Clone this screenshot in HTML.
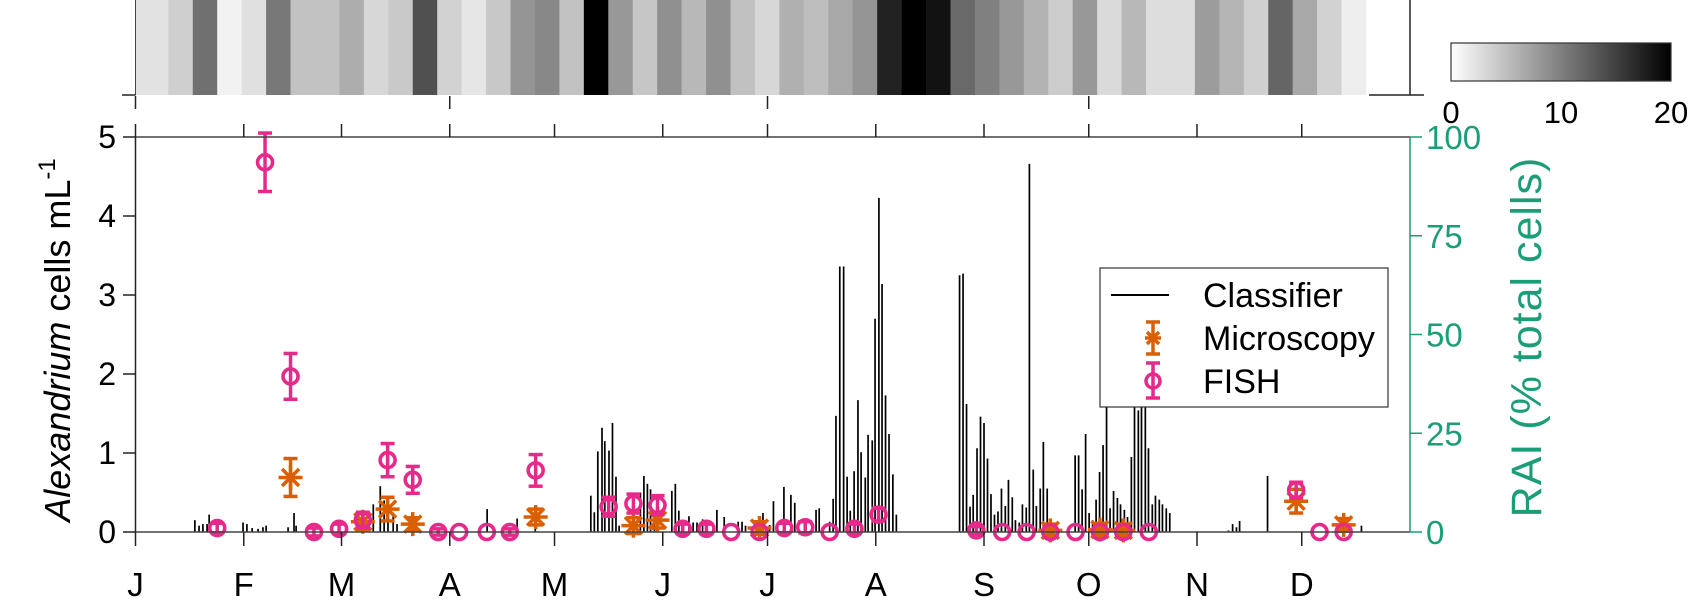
<!DOCTYPE html>
<html><head><meta charset="utf-8">
<style>
html,body{margin:0;padding:0;background:#fff;}
svg{display:block;font-family:"Liberation Sans",Arial,sans-serif;}
</style></head>
<body>
<svg id="chart" width="1700" height="600" viewBox="0 0 1700 600" xmlns="http://www.w3.org/2000/svg">
<defs>
<linearGradient id="cbgrad" x1="0" x2="1" y1="0" y2="0">
<stop offset="0" stop-color="#ffffff"/><stop offset="1" stop-color="#000000"/>
</linearGradient>
</defs>
<g id="heat"></g>
<g id="bars"></g>
<g id="micro"></g>
<g id="fish"></g>
<g id="axes"></g>
<text transform="translate(70,340) rotate(-90)" text-anchor="middle" font-size="36" fill="#000"><tspan font-style="italic">Alexandrium</tspan> cells mL<tspan font-size="24" dy="-15">-1</tspan></text>
<text transform="translate(1541,337) rotate(-90)" text-anchor="middle" font-size="43" letter-spacing="1" fill="#1b9e77">RAI (% total cells)</text>
<g>
<rect x="1451" y="43" width="220" height="38" fill="url(#cbgrad)" stroke="#333" stroke-width="1.2"/>
<text x="1451" y="123" font-size="31" text-anchor="middle">0</text>
<text x="1561" y="123" font-size="31" text-anchor="middle">10</text>
<text x="1671" y="123" font-size="31" text-anchor="middle">20</text>
</g>
<g>
<rect x="1100" y="268" width="288" height="139" fill="#fff" stroke="#333" stroke-width="1.2"/>
<line x1="1111" y1="295" x2="1169" y2="295" stroke="#000" stroke-width="2"/>
<text x="1203" y="307" font-size="34">Classifier</text>
<g stroke="#d95f02" stroke-width="3.5">
<line x1="1153" y1="322" x2="1153" y2="354"/><line x1="1146" y1="322" x2="1160" y2="322"/><line x1="1146" y1="354" x2="1160" y2="354"/>
<line x1="1145" y1="338" x2="1161" y2="338"/><line x1="1147" y1="332" x2="1159" y2="344"/><line x1="1147" y1="344" x2="1159" y2="332"/>
</g>
<text x="1203" y="350" font-size="34">Microscopy</text>
<g stroke="#e7298a" stroke-width="3.5" fill="none">
<line x1="1153" y1="363" x2="1153" y2="398"/><line x1="1146" y1="363" x2="1160" y2="363"/><line x1="1146" y1="398" x2="1160" y2="398"/>
<circle cx="1153" cy="381" r="7"/>
</g>
<text x="1203" y="393" font-size="34">FISH</text>
</g>
</svg>
<script>
// ---------- data ----------
const heatValues = [2.3,3.8,11.2,1.0,2.4,10.6,4.8,4.8,6.4,3.1,4.2,13.7,3.5,2.0,4.3,8.3,9.3,4.8,20,8.1,4.5,8.7,5.6,8.7,4.9,3.1,
 6.2,5.1,6.8,8.3,17.3,20,18.6,11.8,10,8.1,6.0,4.0,8.1,2.9,5.6,2.7,2.7,7.8,5.8,3.7,12.1,6.8,3.5,1.3];
const classDays = [17.0,18.2,19.3,20.5,21.1,30.8,31.9,33.4,35.1,36.5,37.4,43.7,45.4,46.0,
 63.8,65.2,68.1,70.1,71.2,72.3,73.8,74.9,100.7,109.3,114.5,
 130.4,131.4,132.4,133.6,134.4,135.6,136.6,137.6,138.5,144.6,145.6,146.6,147.5,148.6,
 153.6,154.6,155.6,158.5,159.7,160.8,162.4,166.5,168.6,172.6,173.7,174.7,
 179.7,181.6,182.7,185.7,187.7,188.8,194.9,195.8,198.8,199.8,200.6,201.7,202.8,203.8,204.7,205.8,206.9,207.8,209.0,209.8,211.0,211.8,212.9,213.8,214.8,215.8,216.9,217.9,
 236.0,237.0,238.0,239.0,239.9,241.0,242.0,243.0,244.0,245.0,246.0,247.0,248.0,249.1,250.0,251.1,252.0,253.1,254.0,255.1,256.0,257.1,258.0,259.1,260.0,261.1,
 269.1,270.1,271.1,272.1,273.1,274.1,275.1,276.1,277.1,278.1,279.1,280.1,281.2,282.1,283.2,284.1,285.2,286.1,287.2,288.1,289.2,290.1,291.2,292.1,293.2,294.1,295.2,296.2,
 313.0,314.2,315.3,316.2,324.2,351.1];
const classValues = [0.15,0.08,0.10,0.10,0.22,0.12,0.10,0.05,0.04,0.06,0.08,0.06,0.24,0.08,
 0.2,0.25,0.35,0.58,0.4,0.3,0.2,0.1,0.29,0.17,0.2,
 0.46,0.25,1.02,1.32,1.15,1.03,1.38,0.70,0.08,0.5,0.71,0.61,0.54,0.26,
 0.52,0.61,0.27,0.2,0.12,0.12,0.16,0.28,0.19,0.13,0.13,0.08,
 0.24,0.09,0.39,0.57,0.47,0.37,0.28,0.30,0.13,0.42,1.47,3.36,3.36,0.70,0.27,0.77,1.67,1.01,0.69,1.23,1.16,2.70,4.23,3.14,1.73,1.24,0.73,0.22,
 3.25,3.27,1.62,0.32,0.47,1.06,1.46,1.38,0.93,0.48,0.22,0.26,0.55,0.33,0.66,0.44,0.15,0.12,0.35,0.31,4.66,0.79,0.33,0.55,1.14,0.55,
 0.97,0.97,0.54,1.24,0.24,0.15,0.41,0.76,1.10,1.7,0.30,0.52,0.43,0.35,0.28,0.19,0.95,1.9,1.54,1.65,1.65,1.06,0.35,0.46,0.41,0.35,0.30,0.24,
 0.02,0.1,0.06,0.14,0.71,0.08];
const fishDays = [23.4,37.1,44.4,51.1,58.3,65.1,72.2,79.4,86.7,92.7,100.6,107.2,114.6,135.5,142.6,149.5,156.7,163.5,170.6,178.7,185.8,191.8,198.8,205.9,212.8,240.8,248.2,255.2,262.0,269.2,276.2,282.9,290.2,332.4,339.1,346.0];
const fishValues = [0.05,4.68,1.97,0.0,0.04,0.15,0.91,0.66,0.0,0,0,0.0,0.78,0.32,0.36,0.34,0.04,0.04,0,0,0.05,0.06,0,0.04,0.22,0.02,0,0,0,0,0,0,0,0.53,0,0];
const fishErr = [0.06,0.37,0.29,0.05,0.06,0.1,0.21,0.17,0.04,0,0,0.04,0.2,0.12,0.12,0.12,0.06,0.06,0,0,0.06,0.07,0,0.06,0.08,0.05,0,0,0,0,0,0,0,0.1,0,0];
const microDays = [44.4,65.1,72.2,79.4,114.6,142.6,149.5,178.7,262.0,276.2,282.9,332.4,346.0];
const microValues = [0.69,0.13,0.29,0.10,0.19,0.08,0.15,0.05,0.02,0.03,0.02,0.39,0.09];
const microErr = [0.24,0.1,0.15,0.08,0.1,0.1,0.1,0.08,0.08,0.08,0.08,0.15,0.08];
const monthLabels = ["J","F","M","A","M","J","J","A","S","O","N","D"];
const monthStarts = [0,31,59,90,120,151,181,212,243,273,304,334];
const leftTicks = [0,1,2,3,4,5];
const rightTicks = [0,25,50,75,100];

// ---------- scales ----------
const X0=135.5, X1=1410, Y0=532, Y1=137;
const x = d => X0 + d*(X1-X0)/365;
const y = v => Y0 - v*(Y0-Y1)/5;
const yr = v => Y0 - v*(Y0-Y1)/100;
const NS="http://www.w3.org/2000/svg";
function mk(tag, attrs, parent){const e=document.createElementNS(NS,tag);for(const k in attrs)e.setAttribute(k,attrs[k]);parent.appendChild(e);return e;}

const heat=document.getElementById('heat');
heatValues.forEach((v,i)=>{
  const d0 = i===0?0:9.4+7*(i-1), d1=9.4+7*i;
  const g=Math.round(255*(1-v/20));
  const r=mk('rect',{x:x(d0),y:0,width:x(d1)-x(d0)+0.3,height:95,fill:`rgb(${g},${g},${g})`},heat);
  
  
});

const bars=document.getElementById('bars');
classDays.forEach((d,i)=>{
  const l=mk('line',{x1:x(d),x2:x(d),y1:Y0,y2:y(classValues[i]),stroke:'#000','stroke-width':1.7},bars);
  
  
});

function errbar(g,cx,v,e,col){
  if(e>0){
    mk('line',{x1:cx,x2:cx,y1:y(v-e),y2:y(v+e),stroke:col,'stroke-width':3.5},g);
    mk('line',{x1:cx-7,x2:cx+7,y1:y(v-e),y2:y(v-e),stroke:col,'stroke-width':3.5},g);
    mk('line',{x1:cx-7,x2:cx+7,y1:y(v+e),y2:y(v+e),stroke:col,'stroke-width':3.5},g);
  }
}
const micro=document.getElementById('micro');
microDays.forEach((d,i)=>{
  const g=mk('g',{},micro);
  
  
  const cx=x(d), cy=y(microValues[i]), col='#d95f02';
  errbar(g,cx,microValues[i],microErr[i],col);
  mk('line',{x1:cx-12,x2:cx+12,y1:cy,y2:cy,stroke:col,'stroke-width':3.5},g);
  mk('line',{x1:cx,x2:cx,y1:cy-12,y2:cy+12,stroke:col,'stroke-width':3.5},g);
  mk('line',{x1:cx-8.5,x2:cx+8.5,y1:cy-8.5,y2:cy+8.5,stroke:col,'stroke-width':3.5},g);
  mk('line',{x1:cx-8.5,x2:cx+8.5,y1:cy+8.5,y2:cy-8.5,stroke:col,'stroke-width':3.5},g);
});
const fish=document.getElementById('fish');
fishDays.forEach((d,i)=>{
  const g=mk('g',{},fish);
  
  
  const cx=x(d), cy=y(fishValues[i]), col='#e7298a';
  errbar(g,cx,fishValues[i],fishErr[i],col);
  mk('circle',{cx:cx,cy:cy,r:7.5,fill:'none',stroke:col,'stroke-width':3.6},g);
});

const ax=document.getElementById('axes');
mk('line',{x1:X0,x2:X1,y1:Y1,y2:Y1,stroke:'#444','stroke-width':1.5},ax);
mk('line',{x1:X0,x2:X1,y1:Y0,y2:Y0,stroke:'#444','stroke-width':1.5},ax);
mk('line',{x1:X0,x2:X0,y1:Y1,y2:Y0,stroke:'#222','stroke-width':1.5},ax);
mk('line',{x1:X1,x2:X1,y1:Y1,y2:Y0,stroke:'#1b9e77','stroke-width':1.5},ax);
mk('line',{x1:X0,x2:X0,y1:0,y2:95,stroke:'#444','stroke-width':1},ax);
mk('line',{x1:122,x2:X0,y1:95,y2:95,stroke:'#222','stroke-width':1.5},ax);
mk('line',{x1:X1,x2:X1,y1:0,y2:95,stroke:'#222','stroke-width':1.5},ax);
mk('line',{x1:1369,x2:1424,y1:95,y2:95,stroke:'#222','stroke-width':1.5},ax);
[0,90,181,273].forEach(d=>mk('line',{x1:x(d),x2:x(d),y1:96,y2:109,stroke:'#222','stroke-width':1.5},ax));
leftTicks.forEach(v=>{
  mk('line',{x1:123,x2:X0,y1:y(v),y2:y(v),stroke:'#222','stroke-width':1.5},ax);
  const t=mk('text',{x:116,y:y(v)+11,'font-size':32,'text-anchor':'end'},ax);t.textContent=v;
  
  
});
rightTicks.forEach(v=>{
  mk('line',{x1:X1,x2:1422,y1:yr(v),y2:yr(v),stroke:'#1b9e77','stroke-width':1.5},ax);
  const t=mk('text',{x:1426,y:yr(v)+12,'font-size':33,fill:'#1b9e77'},ax);t.textContent=v;
  
  
});
monthStarts.forEach((d,i)=>{
  mk('line',{x1:x(d),x2:x(d),y1:124,y2:Y1,stroke:'#222','stroke-width':1.5},ax);
  mk('line',{x1:x(d),x2:x(d),y1:Y0,y2:546,stroke:'#222','stroke-width':1.5},ax);
  const t=mk('text',{x:x(d),y:596,'font-size':33,'text-anchor':'middle'},ax);t.textContent=monthLabels[i];
  
  
});
</script>
</body></html>
